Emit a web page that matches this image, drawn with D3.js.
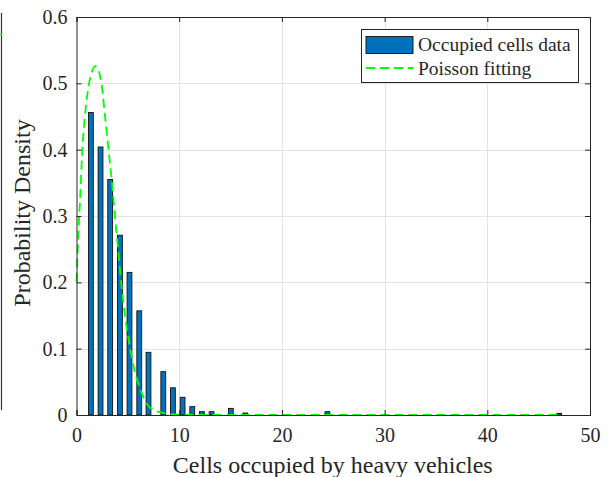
<!DOCTYPE html>
<html>
<head>
<meta charset="utf-8">
<script src="https://cdn.jsdelivr.net/npm/d3@7"></script>
<style>
  html, body { margin: 0; padding: 0; background: #fff; }
  svg { display: block; }
  text { font-family: "Liberation Serif", "Times New Roman", serif; fill: #262626; }
</style>
</head>
<body>
<svg id="chart" width="608" height="477"></svg>
<script>
// Histogram of occupied cells (pdf-normalised), bin centres and densities
const binCenters = [1.40, 2.34, 3.28, 4.23, 5.16, 6.11, 7.01, 8.45, 9.39, 10.33, 11.27, 12.21, 13.15, 15.03, 16.44, 24.43, 47.00];
const binDensity = [0.456, 0.404, 0.355, 0.271, 0.215, 0.157, 0.0945, 0.0653, 0.041, 0.0267, 0.0126, 0.005, 0.005, 0.010, 0.003, 0.005, 0.0025];
const binWidth = 0.47;

// Poisson fitting curve
const fitX = [0, 0.15, 0.37, 0.54, 0.86, 1.19, 1.51, 1.83, 2.16, 2.48, 2.80, 3.13, 3.46, 3.78, 4.11, 4.43, 4.72, 5.21, 5.70, 6.35, 7.16, 8.45, 10, 12, 20, 30, 40, 47];
const fitY = [0.201, 0.261, 0.332, 0.392, 0.457, 0.497, 0.518, 0.526, 0.519, 0.494, 0.447, 0.399, 0.349, 0.294, 0.240, 0.188, 0.150, 0.102, 0.064, 0.033, 0.011, 0.003, 0.0005, 0, 0, 0, 0, 0];

// Axis ticks
const xTicks = [0, 10, 20, 30, 40, 50];
const yTicks = [0, 0.1, 0.2, 0.3, 0.4, 0.5, 0.6];
const yTickLabels = ["0", "0.1", "0.2", "0.3", "0.4", "0.5", "0.6"];

const legendLabels = ["Occupied cells data", "Poisson fitting"];

const svg = d3.select("#chart");
const plot = { left: 76.5, right: 590, top: 17, bottom: 415 };
const serif = '"Liberation Serif", "Times New Roman", serif';

const x = d3.scaleLinear().domain([0, 50]).range([plot.left, plot.right]);
const y = d3.scaleLinear().domain([0, 0.6]).range([plot.bottom, plot.top]);

const axisColor = "#262626";
const barColor = "#0072BD";
const fitColor = "#00ff00";

// stray frame edge at the far left
svg.append("line")
  .attr("x1", 1.5).attr("x2", 1.5).attr("y1", 13).attr("y2", 410)
  .attr("stroke", "#333").attr("stroke-width", 1.2);
svg.append("line")
  .attr("x1", 0).attr("x2", 2).attr("y1", 34.5).attr("y2", 34.5)
  .attr("stroke", fitColor).attr("stroke-width", 1.5);

// grid
const grid = svg.append("g");
grid.selectAll(".gx").data(xTicks.slice(1, -1)).join("line")
  .attr("x1", d => Math.round(x(d)) + 0.5).attr("x2", d => Math.round(x(d)) + 0.5)
  .attr("y1", plot.top).attr("y2", plot.bottom)
  .attr("stroke", "#e3e3e3").attr("stroke-width", 1);
grid.selectAll(".gy").data(yTicks.slice(1, -1)).join("line")
  .attr("x1", plot.left).attr("x2", plot.right)
  .attr("y1", d => Math.round(y(d)) + 0.5).attr("y2", d => Math.round(y(d)) + 0.5)
  .attr("stroke", "#e3e3e3").attr("stroke-width", 1);

// bars
svg.append("g").selectAll("rect").data(binCenters).join("rect")
  .attr("x", (d, i) => x(d - binWidth / 2))
  .attr("width", x(binWidth) - x(0))
  .attr("y", (d, i) => y(binDensity[i]))
  .attr("height", (d, i) => y(0) - y(binDensity[i]))
  .attr("fill", barColor)
  .attr("stroke", "#111")
  .attr("stroke-width", 0.9);

// fitted curve
const line = d3.line()
  .x((d, i) => x(fitX[i]))
  .y((d, i) => y(fitY[i]))
  .curve(d3.curveMonotoneX);
svg.append("path")
  .attr("d", line(fitX))
  .attr("fill", "none")
  .attr("stroke", fitColor)
  .attr("stroke-width", 1.8)
  .attr("stroke-dasharray", "9,5");

// axes
const xAxis = d3.axisBottom(x).tickValues(xTicks).tickSize(-5).tickPadding(13).tickFormat(d3.format("d"));
const yAxis = d3.axisLeft(y).tickValues(yTicks).tickSize(-5).tickPadding(9).tickFormat((d, i) => yTickLabels[i]);

const gx = svg.append("g").attr("transform", `translate(0,${plot.bottom})`).call(xAxis);
const gy = svg.append("g").attr("transform", `translate(${plot.left},0)`).call(yAxis);
const gxTop = svg.append("g").attr("transform", `translate(0,${plot.top})`)
  .call(d3.axisTop(x).tickValues(xTicks).tickSize(-5).tickFormat(""));
const gyRight = svg.append("g").attr("transform", `translate(${plot.right},0)`)
  .call(d3.axisRight(y).tickValues(yTicks).tickSize(-5).tickFormat(""));

[gx, gy, gxTop, gyRight].forEach(g => {
  g.attr("font-family", serif).attr("font-size", 20);
  g.selectAll("path.domain").attr("stroke", axisColor).attr("stroke-width", 1);
  g.selectAll(".tick line").attr("stroke", axisColor);
  g.selectAll("text").attr("fill", axisColor)
    .style("font-family", serif).style("font-size", "20px");
});

// axis labels
svg.append("text")
  .attr("x", (plot.left + plot.right) / 2 - 0.5).attr("y", 473)
  .attr("text-anchor", "middle")
  .style("font-size", "24px")
  .text("Cells occupied by heavy vehicles");
svg.append("text")
  .attr("transform", `translate(30,${(plot.top + plot.bottom) / 2 - 3}) rotate(-90)`)
  .attr("text-anchor", "middle")
  .style("font-size", "24px")
  .text("Probability Density");

// legend
const lg = svg.append("g");
lg.append("rect")
  .attr("x", 361.5).attr("y", 29.5).attr("width", 217).attr("height", 53)
  .attr("fill", "#fff").attr("stroke", axisColor).attr("stroke-width", 1);
lg.append("rect")
  .attr("x", 366).attr("y", 36.5).attr("width", 47).attr("height", 17)
  .attr("fill", barColor).attr("stroke", "#111").attr("stroke-width", 0.9);
lg.append("line")
  .attr("x1", 366).attr("x2", 413).attr("y1", 68).attr("y2", 68)
  .attr("stroke", fitColor).attr("stroke-width", 1.8).attr("stroke-dasharray", "9,5");
lg.selectAll(".lt").data(legendLabels).join("text")
  .attr("x", 418).attr("y", (d, i) => 51 + i * 24)
  .style("font-size", "19.5px")
  .text(d => d);
</script>
</body>
</html>
